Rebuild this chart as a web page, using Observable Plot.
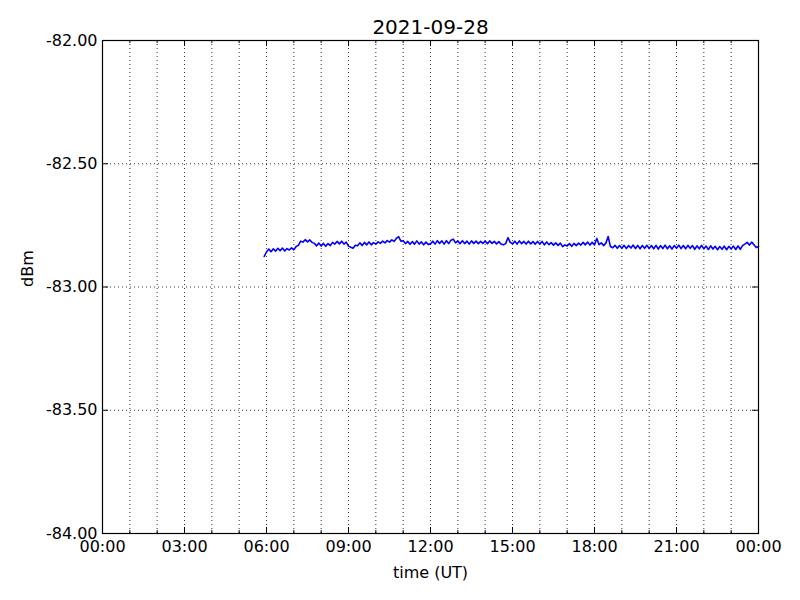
<!DOCTYPE html>
<html>
<head>
<meta charset="utf-8">
<script src="https://cdn.jsdelivr.net/npm/d3@7"></script>
<script src="https://cdn.jsdelivr.net/npm/@observablehq/plot@0.6"></script>
<style>
  html, body { margin: 0; padding: 0; background: #fff; }
  #chart { width: 800px; height: 600px; }
</style>
</head>
<body>
<div id="chart"></div>
<script>
const title = "2021-09-28";
const xLabel = "time (UT)";
const yLabel = "dBm";

// x ticks (hours) and labels
const xMajorTicks = [0, 3, 6, 9, 12, 15, 18, 21, 24];
const xTickLabels = ["00:00", "03:00", "06:00", "09:00", "12:00", "15:00", "18:00", "21:00", "00:00"];
const xMinorTicks = [1, 2, 4, 5, 7, 8, 10, 11, 13, 14, 16, 17, 19, 20, 22, 23];
const yTicks = [-82, -82.5, -83, -83.5, -84];
const yGrid = [-82.5, -83, -83.5];

// signal samples: first sample at 05:55 UT, one every 5 minutes
const startMinutes = 355;
const stepMinutes = 5;
const dbm = [
  -82.876,
  // 06
  -82.858, -82.846, -82.857, -82.845, -82.855, -82.843, -82.853, -82.842, -82.854, -82.844, -82.850, -82.841,
  // 07
  -82.849, -82.836, -82.831, -82.814, -82.818, -82.808, -82.817, -82.809, -82.819, -82.823, -82.833, -82.822,
  // 08
  -82.834, -82.823, -82.835, -82.824, -82.832, -82.819, -82.826, -82.815, -82.825, -82.814, -82.826, -82.818,
  // 09
  -82.834, -82.839, -82.843, -82.831, -82.833, -82.821, -82.832, -82.819, -82.829, -82.817, -82.829, -82.820,
  // 10
  -82.826, -82.817, -82.823, -82.814, -82.821, -82.812, -82.818, -82.809, -82.815, -82.803, -82.796, -82.814,
  // 11
  -82.812, -82.824, -82.815, -82.827, -82.816, -82.826, -82.813, -82.826, -82.817, -82.829, -82.818, -82.827,
  // 12
  -82.825, -82.814, -82.826, -82.812, -82.823, -82.813, -82.826, -82.812, -82.824, -82.810, -82.806, -82.821,
  // 13
  -82.813, -82.824, -82.812, -82.824, -82.814, -82.826, -82.813, -82.823, -82.814, -82.824, -82.815, -82.823,
  // 14
  -82.814, -82.824, -82.813, -82.823, -82.815, -82.825, -82.816, -82.826, -82.829, -82.824, -82.800, -82.819,
  // 15
  -82.825, -82.814, -82.826, -82.813, -82.824, -82.815, -82.826, -82.814, -82.825, -82.816, -82.826, -82.815,
  // 16
  -82.826, -82.815, -82.829, -82.817, -82.828, -82.820, -82.830, -82.821, -82.831, -82.822, -82.836, -82.829,
  // 17
  -82.834, -82.824, -82.835, -82.823, -82.832, -82.822, -82.830, -82.819, -82.829, -82.818, -82.830, -82.819,
  // 18
  -82.829, -82.803, -82.828, -82.821, -82.832, -82.822, -82.795, -82.836, -82.841, -82.831, -82.843, -82.832,
  // 19
  -82.843, -82.831, -82.844, -82.832, -82.842, -82.830, -82.844, -82.831, -82.845, -82.832, -82.843, -82.831,
  // 20
  -82.844, -82.832, -82.845, -82.831, -82.846, -82.832, -82.844, -82.830, -82.845, -82.833, -82.846, -82.832,
  // 21
  -82.843, -82.830, -82.844, -82.832, -82.845, -82.831, -82.843, -82.832, -82.847, -82.833, -82.845, -82.831,
  // 22
  -82.845, -82.834, -82.848, -82.833, -82.846, -82.835, -82.849, -82.836, -82.847, -82.834, -82.849, -82.835,
  // 23
  -82.846, -82.834, -82.848, -82.833, -82.847, -82.832, -82.826, -82.819, -82.830, -82.818, -82.829, -82.840,
  // 24:00
  -82.836
];

const data = dbm.map((v, i) => ({ hour: (startMinutes + i * stepMinutes) / 60, value: v }));

const W = 800, H = 600;
const mL = 102, mR = 42, mT = 40, mB = 67;
const fw = W - mL - mR, fh = H - mT - mB;
const majorLen = 6, minorLen = 3;
const dotted = "1,3";

const chart = Plot.plot({
  width: W,
  height: H,
  marginLeft: mL,
  marginRight: mR,
  marginTop: mT,
  marginBottom: mB,
  style: { fontFamily: "DejaVu Sans, sans-serif", fontSize: "16px", color: "#000", background: "#fff" },
  x: { domain: [0, 24] },
  y: { domain: [-84, -82] },
  marks: [
    // dotted grid
    Plot.ruleX(xMinorTicks.concat(xMajorTicks.slice(1, -1)), { stroke: "#000", strokeWidth: 0.8, strokeDasharray: dotted }),
    Plot.ruleY(yGrid, { stroke: "#000", strokeWidth: 0.8, strokeDasharray: dotted }),
    // inward ticks: bottom / top
    Plot.ruleX(xMajorTicks, { stroke: "#000", insetTop: fh - majorLen }),
    Plot.ruleX(xMajorTicks, { stroke: "#000", insetBottom: fh - majorLen }),
    Plot.ruleX(xMinorTicks, { stroke: "#000", insetTop: fh - minorLen }),
    Plot.ruleX(xMinorTicks, { stroke: "#000", insetBottom: fh - minorLen }),
    // inward ticks: left / right
    Plot.ruleY(yTicks, { stroke: "#000", insetRight: fw - majorLen }),
    Plot.ruleY(yTicks, { stroke: "#000", insetLeft: fw - majorLen }),
    // axes labels (tick text)
    Plot.axisX(xMajorTicks, {
      anchor: "bottom", tickSize: 0, tickPadding: 7, label: null,
      tickFormat: d => xTickLabels[xMajorTicks.indexOf(d)], fontSize: 16
    }),
    Plot.axisY(yTicks, {
      anchor: "left", tickSize: 0, tickPadding: 5, label: null,
      tickFormat: d => d.toFixed(2), fontSize: 16
    }),
    // data line
    Plot.line(data, { x: "hour", y: "value", stroke: "#0000ff", strokeWidth: 1.6 }),
    // frame
    Plot.frame({ stroke: "#000", strokeWidth: 1.2 }),
    // title and axis labels
    Plot.text([title], { text: d => d, frameAnchor: "top", lineAnchor: "middle", dy: -13, fontSize: 20 }),
    Plot.text([xLabel], { text: d => d, frameAnchor: "bottom", lineAnchor: "middle", dy: 39, fontSize: 16 }),
    Plot.text([yLabel], { text: d => d, frameAnchor: "left", dx: -75, rotate: -90, fontSize: 16 })
  ]
});

document.getElementById("chart").appendChild(chart);
</script>
</body>
</html>
